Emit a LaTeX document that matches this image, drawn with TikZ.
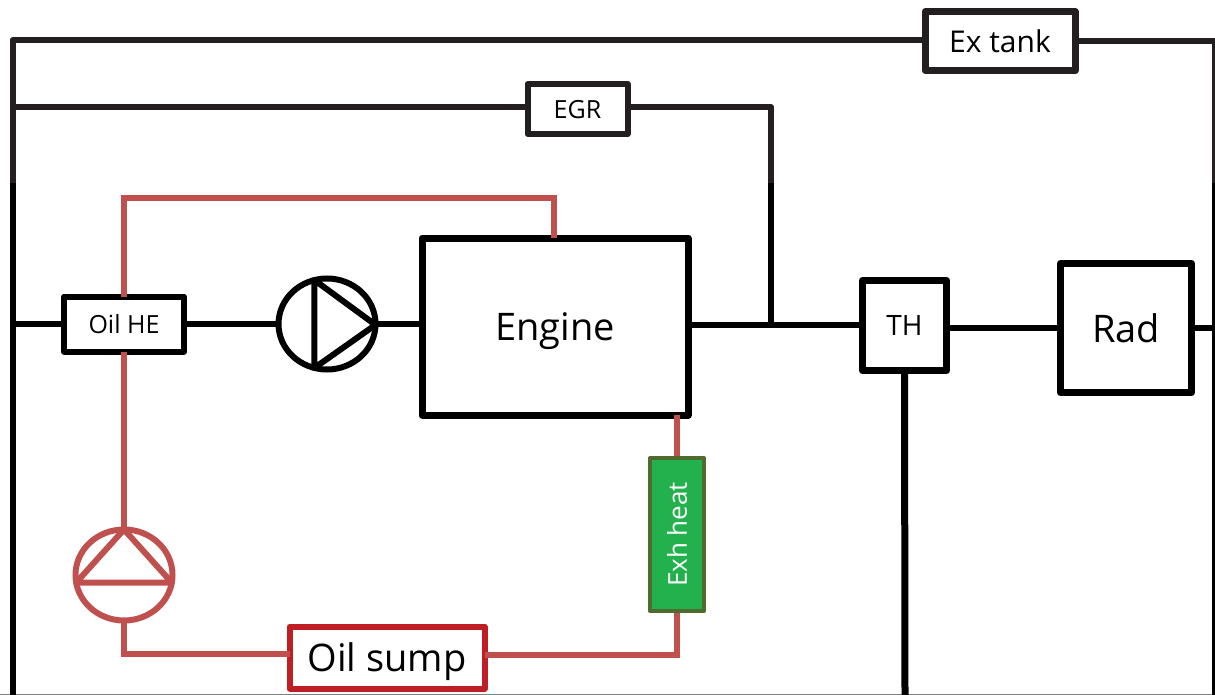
\documentclass[tikz,border=0pt]{standalone}
\usepackage{fontspec}
\usetikzlibrary{shapes.geometric}
\setmainfont{Open Sans}
\definecolor{pipegrey}{HTML}{231F20}
\definecolor{oilred}{HTML}{C0504D}
\definecolor{sumpred}{HTML}{BE1E24}
\definecolor{exhgreen}{HTML}{22B14C}
\definecolor{exhedge}{HTML}{4F6B2F}
\tikzset{
  box/.style={draw=black,line width=6pt,line join=round,outer sep=0pt,inner sep=0pt,text=black,text depth=0pt},
  pipe/.style={line width=6pt,black},
  greypipe/.style={line width=6pt,pipegrey},
  oilpipe/.style={line width=6pt,oilred},
  pumpring/.style={draw,ellipse,outer sep=0pt,inner sep=0pt,minimum width=97pt,minimum height=91pt},
}
\begin{document}
\begin{tikzpicture}[x=1pt,y=-1pt]
  \useasboundingbox (0,0) rectangle (1215,695);
  \node[box,draw=pipegrey,line width=7pt,minimum width=150pt,minimum height=59pt,font=\fontsize{30}{32}\selectfont] (extank) at (1000,41) {Ex tank};
  \node[box,draw=pipegrey,line width=6pt,minimum width=100pt,minimum height=50pt,font=\fontsize{25}{27}\selectfont] (egr) at (577.5,109) {EGR};
  \node[box,minimum width=120pt,minimum height=55pt,font=\fontsize{25}{27}\selectfont] (oilhe) at (124,324) {Oil HE};
  \node[box,line width=7pt,minimum width=266pt,minimum height=177pt,font=\fontsize{38}{40}\selectfont] (engine) at (555,326.5) {Engine};
  \node[box,line width=7pt,minimum width=84pt,minimum height=90pt,font=\fontsize{28}{30}\selectfont] (th) at (904.5,325.5) {TH};
  \node[box,line width=7pt,minimum width=131pt,minimum height=129pt,font=\fontsize{38}{40}\selectfont] (rad) at (1126,328) {Rad};
  \node[box,draw=sumpred,line width=6pt,minimum width=195pt,minimum height=62pt,font=\fontsize{38}{40}\selectfont] (sump) at (387,657.5) {Oil sump};
  \node[box,draw=exhedge,fill=exhgreen,line width=4pt,outer sep=2pt,text=white,rotate=90,font=\fontsize{26}{28}\selectfont,minimum width=153pt,minimum height=54pt] (exh) at (677,534.5) {Exh heat};
  \node[pumpring,line width=6pt] (pumpw) at (327,324) {};
  \node[pumpring,oilred,line width=6pt] (pumpo) at (124,575) {};
  \coordinate (tl) at (12.5,40);
  \coordinate (tr) at (1215,41);
  \coordinate (ml) at (12.5,183);
  \coordinate (mr) at (1215,183);
  \coordinate (bl) at (12.5,695);
  \coordinate (br) at (1215,695);
  \coordinate (egrl) at (12.5,107);
  \coordinate (egrc) at (771,107);
  \coordinate (egrm) at (771,183);
  \coordinate (egrj) at (771,325);
  \coordinate (oill) at (12.5,324);
  \coordinate (thb) at (905,695);
  \coordinate (oilt) at (124,198);
  \coordinate (engt) at (554,198);
  \coordinate (pumpc) at (124,654);
  \coordinate (sumpr) at (677,655);
  \coordinate (edgel) at (0,694.5);
  \coordinate (edger) at (1215,694.5);
  \draw[line width=1.5pt,gray] (edgel) -- (edger);
  \draw[greypipe,line join=round] (ml) -- (tl) -- (extank.west |- tl);
  \draw[greypipe,line join=round] (extank.east |- tr) -- (tr) -- (mr);
  \draw[pipe] (mr) -- (br);
  \draw[pipe] (ml) -- (bl);
  \draw[greypipe] (egrl) -- (egr.west |- egrl);
  \draw[greypipe,line join=round] (egr.east |- egrc) -- (egrc) -- (egrm);
  \draw[pipe] (egrm) -- (egrj);
  \draw[pipe] (oill) -- (oilhe.west);
  \draw[pipe] (oilhe.east) -- (pumpw.west);
  \draw[pipe] (pumpw.east) -- (engine.west |- pumpw.east);
  \draw[pipe] (engine.east |- egrj) -- (th.west |- egrj);
  \draw[pipe] (th.east |- rad.west) -- (rad.west);
  \draw[pipe] (rad.east) -- (rad.east -| mr);
  \draw[pipe,line width=7pt] (th.south) -- (thb);
  \draw[line width=6pt,line join=round] (pumpw.-1) -- (pumpw.106) -- (pumpw.254) -- cycle;
  \draw[line width=6pt,oilred,line join=round] (pumpo.north) -- (pumpo.189) -- (pumpo.-9) -- cycle;
  \draw[oilpipe] (oilhe.north) -- (oilt) -- (engt) -- (engine.north -| engt);
  \draw[oilpipe] (oilhe.south) -- (pumpo.north);
  \draw[oilpipe] (pumpo.south) -- (pumpc) -- (sump.west |- pumpc);
  \draw[oilpipe] (sump.east |- sumpr) -- (sumpr) -- (exh.west);
  \draw[oilpipe] (exh.east) -- (engine.south -| exh.east);
\end{tikzpicture}
\end{document}
